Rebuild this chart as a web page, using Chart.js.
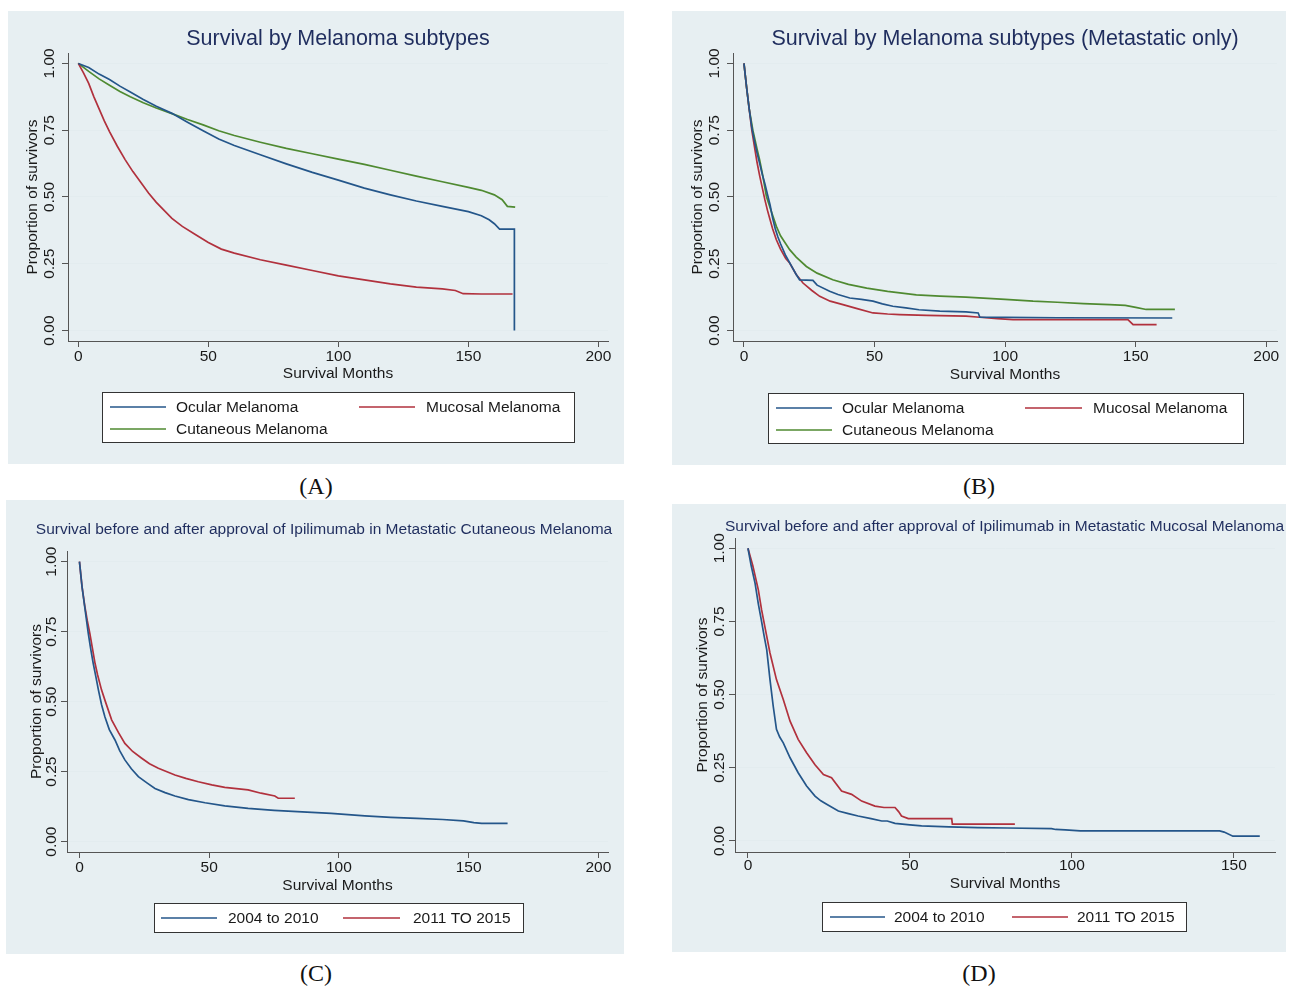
<!DOCTYPE html>
<html lang="en">
<head>
<meta charset="UTF-8">
<title>Melanoma survival</title>
<script src="https://cdn.jsdelivr.net/npm/chart.js@4.4.0/dist/chart.umd.min.js"></script>
<style>
  body { margin: 0; background: #fff; }
  .panel { position: absolute; background: #e7eff2; }
  .panel canvas { display: block; }
  .cap { position: absolute; transform: translate(-50%, -50%); font: 24px "Liberation Serif", "DejaVu Serif", serif; color: #111; }
</style>
</head>
<body>

<div class="panel" style="left:8px;top:11px;width:616px;height:453px"><canvas id="chartA" width="616" height="453"></canvas></div>
<div class="panel" style="left:672px;top:11px;width:614px;height:454px"><canvas id="chartB" width="614" height="454"></canvas></div>
<div class="panel" style="left:6px;top:500px;width:618px;height:454px"><canvas id="chartC" width="618" height="454"></canvas></div>
<div class="panel" style="left:672px;top:504px;width:614px;height:448px"><canvas id="chartD" width="614" height="448"></canvas></div>

<div class="cap" style="left:316px;top:486px">(A)</div>
<div class="cap" style="left:979px;top:486px">(B)</div>
<div class="cap" style="left:316px;top:973px">(C)</div>
<div class="cap" style="left:979px;top:973px">(D)</div>

<script>
// ---- data ----
const yTicks = [0, 0.25, 0.5, 0.75, 1];
const xTicksWide = [0, 50, 100, 150, 200];
const xTicksShort = [0, 50, 100, 150];

// (A) all melanoma subtypes
const monthsA_ocular = [0, 4, 8, 12, 16, 20, 25, 30, 36, 42, 48, 54, 60, 70, 80, 90, 100, 110, 120, 130, 140, 150, 155, 158, 160, 162, 167.7, 167.7];
const survA_ocular   = [1, 0.985, 0.96, 0.94, 0.915, 0.893, 0.865, 0.84, 0.813, 0.78, 0.748, 0.717, 0.693, 0.658, 0.624, 0.592, 0.563, 0.533, 0.508, 0.485, 0.465, 0.445, 0.43, 0.415, 0.40, 0.38, 0.38, 0];
const monthsA_mucosal = [0, 2, 4, 6, 8, 10, 12, 15, 18, 21, 24, 27, 30, 33, 36, 40, 45, 50, 55, 60, 70, 80, 90, 100, 110, 120, 130, 140, 145, 148, 155, 167];
const survA_mucosal   = [1, 0.965, 0.925, 0.875, 0.83, 0.785, 0.745, 0.69, 0.64, 0.595, 0.555, 0.515, 0.48, 0.45, 0.42, 0.39, 0.36, 0.33, 0.305, 0.29, 0.265, 0.245, 0.225, 0.205, 0.19, 0.175, 0.163, 0.156, 0.15, 0.138, 0.137, 0.137];
const monthsA_cutaneous = [0, 4, 8, 12, 16, 20, 25, 30, 36, 42, 48, 54, 60, 70, 80, 90, 100, 110, 120, 130, 140, 150, 155, 160, 163, 165, 168];
const survA_cutaneous   = [1, 0.97, 0.942, 0.918, 0.895, 0.875, 0.853, 0.833, 0.812, 0.79, 0.77, 0.748, 0.73, 0.705, 0.682, 0.662, 0.642, 0.622, 0.6, 0.578, 0.557, 0.536, 0.525, 0.508, 0.49, 0.465, 0.462];

// (B) metastatic only
const monthsB_ocular = [0, 1, 2, 3, 4, 5, 6, 7, 8, 9, 10, 11, 12, 13, 14, 16, 18, 20, 21.3, 26.4, 28, 32.8, 36, 40.5, 45, 49.4, 53, 57, 62, 67, 75, 85, 89.7, 90.3, 120, 164];
const survB_ocular   = [1, 0.91, 0.83, 0.76, 0.71, 0.665, 0.626, 0.585, 0.55, 0.51, 0.47, 0.42, 0.38, 0.35, 0.325, 0.28, 0.245, 0.21, 0.19, 0.188, 0.17, 0.147, 0.135, 0.122, 0.117, 0.11, 0.1, 0.091, 0.085, 0.078, 0.073, 0.07, 0.066, 0.05, 0.048, 0.047];
const monthsB_mucosal = [0, 1, 2, 3, 4, 5, 6, 7, 8, 9, 10, 11, 12.4, 14, 16, 17.5, 20, 22.6, 26, 29, 33, 37.9, 43, 49.4, 55, 59.6, 70, 85, 90.3, 97, 103, 147, 148, 149, 158];
const survB_mucosal   = [1, 0.91, 0.83, 0.75, 0.69, 0.63, 0.58, 0.535, 0.49, 0.45, 0.415, 0.38, 0.34, 0.305, 0.27, 0.253, 0.21, 0.178, 0.15, 0.128, 0.11, 0.097, 0.083, 0.066, 0.062, 0.06, 0.057, 0.054, 0.05, 0.045, 0.041, 0.041, 0.032, 0.022, 0.022];
const monthsB_cutaneous = [0, 1, 2, 3.4, 5, 6, 7, 8.6, 10, 12.4, 14, 17.5, 20, 23.9, 28, 34, 40, 47, 55, 66, 75, 85, 100, 110.7, 120, 130, 140, 146, 150, 154, 165];
const survB_cutaneous   = [1, 0.91, 0.83, 0.75, 0.68, 0.639, 0.59, 0.502, 0.46, 0.39, 0.355, 0.303, 0.275, 0.24, 0.215, 0.19, 0.173, 0.159, 0.147, 0.134, 0.129, 0.125, 0.117, 0.11, 0.106, 0.101, 0.097, 0.094, 0.087, 0.079, 0.079];

// (C) metastatic cutaneous, before / after ipilimumab
const monthsC_early = [0, 1, 2, 3.4, 4.3, 5.3, 6.3, 7.3, 8.5, 9.8, 11.5, 13.7, 15.5, 17.5, 20, 22.7, 26, 29.1, 33, 36.8, 42, 48.4, 56, 65, 75, 84, 97, 110, 120, 130, 140, 148, 152, 155, 165];
const survC_early   = [1, 0.91, 0.84, 0.744, 0.69, 0.637, 0.59, 0.542, 0.49, 0.446, 0.40, 0.363, 0.325, 0.292, 0.26, 0.232, 0.21, 0.19, 0.175, 0.163, 0.15, 0.139, 0.128, 0.119, 0.112, 0.107, 0.101, 0.092, 0.087, 0.083, 0.079, 0.074, 0.068, 0.065, 0.065];
const monthsC_late = [0, 1, 2, 3, 4, 5, 6, 7, 8.5, 10, 12.4, 15, 17.5, 20.5, 24, 27, 30.4, 36.8, 41, 45.8, 51, 56, 65, 70, 75.3, 76.6, 83];
const survC_late   = [1, 0.91, 0.845, 0.79, 0.744, 0.69, 0.637, 0.595, 0.542, 0.5, 0.435, 0.39, 0.351, 0.322, 0.298, 0.278, 0.262, 0.238, 0.226, 0.214, 0.203, 0.194, 0.185, 0.173, 0.163, 0.155, 0.155];

// (D) metastatic mucosal, before / after ipilimumab
const monthsD_early = [0, 1, 2.2, 3.2, 4.2, 5, 5.8, 6.8, 7.8, 8.8, 9.8, 10.9, 13, 15.5, 18.1, 20.7, 22.5, 24.3, 27.9, 31, 34, 38, 41.3, 43, 45.4, 50, 53.6, 62, 71, 80, 93.7, 95, 98, 102.6, 145.6, 147, 149.7, 158];
const survD_early   = [1, 0.94, 0.88, 0.81, 0.75, 0.70, 0.653, 0.551, 0.46, 0.381, 0.355, 0.335, 0.284, 0.233, 0.1875, 0.153, 0.137, 0.125, 0.102, 0.093, 0.085, 0.076, 0.068, 0.068, 0.06, 0.055, 0.051, 0.048, 0.045, 0.044, 0.042, 0.039, 0.0375, 0.034, 0.034, 0.03, 0.016, 0.016];
const monthsD_late = [0, 1.5, 3.2, 4.2, 5.2, 6.8, 8.8, 10.9, 13, 15.5, 18.1, 20.7, 23.3, 25.8, 28.9, 32, 35.1, 39.2, 42, 45.4, 46.5, 47.4, 49.5, 62.9, 63.1, 82.4];
const survD_late   = [1, 0.94, 0.858, 0.79, 0.733, 0.642, 0.551, 0.483, 0.409, 0.347, 0.301, 0.26, 0.227, 0.216, 0.17, 0.159, 0.136, 0.119, 0.114, 0.114, 0.1, 0.085, 0.076, 0.076, 0.057, 0.057];

const NAVY = '#24568a', MAROON = '#b1313d', GREEN = '#4f8a31';
const FONT = '"Liberation Sans", Arial, sans-serif';

// draws the Stata-like labels, titles and legend box
const stataPlugin = {
  id: 'stata',
  afterDraw(chart, args, o) {
    const ctx = chart.ctx, xs = chart.scales.x, ys = chart.scales.y, a = chart.chartArea;
    ctx.save();
    ctx.textBaseline = 'middle';
    // title
    ctx.fillStyle = '#1f2d5e';
    ctx.font = o.titleSize + 'px ' + FONT;
    ctx.textAlign = o.titleAlign;
    ctx.fillText(o.title, o.titleX, o.titleY);
    // y ticks + title
    ctx.fillStyle = '#1a1a1a';
    ctx.font = '15.5px ' + FONT;
    ctx.textAlign = 'center';
    yTicks.forEach(v => {
      ctx.save();
      ctx.translate(o.yLabelX, ys.getPixelForValue(v));
      ctx.rotate(-Math.PI / 2);
      ctx.fillText(v.toFixed(2), 0, 0);
      ctx.restore();
    });
    ctx.save();
    ctx.translate(o.yTitleX, (a.top + a.bottom) / 2);
    ctx.rotate(-Math.PI / 2);
    ctx.fillText('Proportion of survivors', 0, 0);
    ctx.restore();
    // x ticks + title
    o.xTicks.forEach(v => ctx.fillText(String(v), xs.getPixelForValue(v), o.xLabelY));
    ctx.fillText('Survival Months', (a.left + a.right) / 2, o.xTitleY);
    // legend
    const b = o.legendBox;
    ctx.fillStyle = '#fff';
    ctx.fillRect(b[0], b[1], b[2] - b[0], b[3] - b[1]);
    ctx.strokeStyle = '#333';
    ctx.lineWidth = 1;
    ctx.strokeRect(b[0] + 0.5, b[1] + 0.5, b[2] - b[0], b[3] - b[1]);
    ctx.textAlign = 'left';
    ctx.fillStyle = '#1a1a1a';
    o.legendItems.forEach((it, i) => {
      const ds = chart.data.datasets[i];
      ctx.strokeStyle = ds.borderColor;
      ctx.lineWidth = 1.5;
      ctx.beginPath();
      ctx.moveTo(it[0], it[3]);
      ctx.lineTo(it[1], it[3]);
      ctx.stroke();
      ctx.fillText(ds.label, it[2], it[3] + 1);
    });
    ctx.restore();
  }
};

function makeChart(id, series, L) {
  const canvas = document.getElementById(id);
  const W = canvas.width, H = canvas.height;
  new Chart(canvas, {
    type: 'line',
    data: {
      datasets: series.map(s => ({
        label: s.label,
        data: s.months.map((m, i) => ({ x: m, y: s.surv[i] })),
        borderColor: s.color,
        borderWidth: 1.7,
        pointRadius: 0,
        fill: false
      }))
    },
    options: {
      responsive: false,
      animation: false,
      devicePixelRatio: 1,
      layout: { padding: { left: L.plot[0] - 6, top: L.plot[1], right: W - L.plot[2], bottom: H - L.plot[3] - 6 } },
      plugins: {
        legend: { display: false },
        tooltip: { enabled: false },
        stata: L
      },
      scales: {
        x: {
          type: 'linear', min: L.xRange[0], max: L.xRange[1],
          afterBuildTicks: s => { s.ticks = L.xTicks.map(v => ({ value: v })); },
          afterFit: s => { s.height = 6; },
          ticks: { display: false },
          grid: { drawOnChartArea: false, tickLength: 6, tickColor: '#555' },
          border: { color: '#555' }
        },
        y: {
          type: 'linear', min: L.yRange[0], max: L.yRange[1],
          afterBuildTicks: s => { s.ticks = yTicks.map(v => ({ value: v })); },
          afterFit: s => { s.width = 6; },
          ticks: { display: false },
          grid: { color: '#e3ecef', tickLength: 6, tickColor: '#555' },
          border: { color: '#555' }
        }
      }
    },
    plugins: [stataPlugin]
  });
}

makeChart('chartA', [
  { label: 'Ocular Melanoma', months: monthsA_ocular, surv: survA_ocular, color: NAVY },
  { label: 'Mucosal Melanoma', months: monthsA_mucosal, surv: survA_mucosal, color: MAROON },
  { label: 'Cutaneous Melanoma', months: monthsA_cutaneous, surv: survA_cutaneous, color: GREEN }
], {
  plot: [60, 42, 600, 330], xRange: [-3.96, 203.7], yRange: [-0.039, 1.039], xTicks: xTicksWide,
  title: 'Survival by Melanoma subtypes', titleSize: 21.5, titleAlign: 'center', titleX: 330, titleY: 28,
  yLabelX: 42, yTitleX: 25, xLabelY: 346, xTitleY: 363,
  legendBox: [94, 381, 566, 431],
  legendItems: [[102, 158, 168, 396], [351, 407, 418, 396], [102, 158, 168, 418]]
});

makeChart('chartB', [
  { label: 'Ocular Melanoma', months: monthsB_ocular, surv: survB_ocular, color: NAVY },
  { label: 'Mucosal Melanoma', months: monthsB_mucosal, surv: survB_mucosal, color: MAROON },
  { label: 'Cutaneous Melanoma', months: monthsB_cutaneous, surv: survB_cutaneous, color: GREEN }
], {
  plot: [61, 42, 605, 330], xRange: [-4.2, 204.1], yRange: [-0.039, 1.039], xTicks: xTicksWide,
  title: 'Survival by Melanoma subtypes (Metastatic only)', titleSize: 21.5, titleAlign: 'center', titleX: 333, titleY: 28,
  yLabelX: 43, yTitleX: 26, xLabelY: 346, xTitleY: 364,
  legendBox: [96, 382, 571, 432],
  legendItems: [[104, 160, 170, 397], [353, 410, 421, 397], [104, 160, 170, 419]]
});

makeChart('chartC', [
  { label: '2004 to 2010', months: monthsC_early, surv: survC_early, color: NAVY },
  { label: '2011 TO 2015', months: monthsC_late, surv: survC_late, color: MAROON }
], {
  plot: [61, 51, 602, 352], xRange: [-4.8, 203.7], yRange: [-0.037, 1.038], xTicks: xTicksWide,
  title: 'Survival before and after approval of Ipilimumab in Metastatic Cutaneous Melanoma', titleSize: 15.5, titleAlign: 'center', titleX: 318, titleY: 30,
  yLabelX: 46, yTitleX: 31, xLabelY: 368, xTitleY: 386,
  legendBox: [148, 403, 517, 432],
  legendItems: [[155, 211, 222, 418], [337, 394, 407, 418]]
});

makeChart('chartD', [
  { label: '2004 to 2010', months: monthsD_early, surv: survD_early, color: NAVY },
  { label: '2011 TO 2015', months: monthsD_late, surv: survD_late, color: MAROON }
], {
  plot: [63, 34, 603, 348], xRange: [-4.0, 162.7], yRange: [-0.038, 1.035], xTicks: xTicksShort,
  title: 'Survival before and after approval of Ipilimumab in Metastatic Mucosal Melanoma', titleSize: 15.5, titleAlign: 'left', titleX: 53, titleY: 23,
  yLabelX: 48, yTitleX: 31, xLabelY: 362, xTitleY: 380,
  legendBox: [150, 398, 514, 427],
  legendItems: [[158, 213, 222, 413], [340, 396, 405, 413]]
});
</script>
</body>
</html>
